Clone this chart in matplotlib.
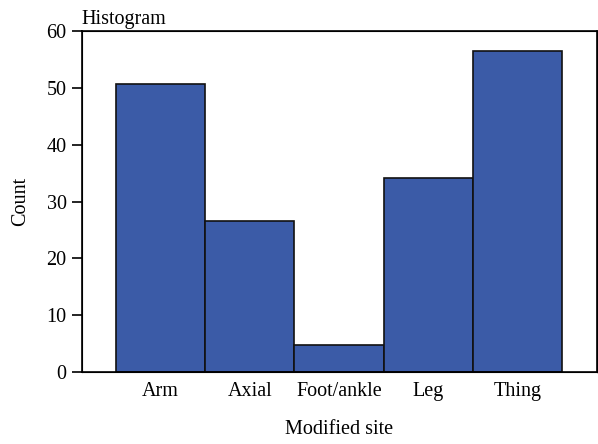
import matplotlib.pyplot as plt
import numpy as np

plt.rcParams["font.family"] = ["Liberation Serif", "DejaVu Serif"]

sites = ["Arm", "Axial", "Foot/ankle", "Leg", "Thing"]
counts = [50.7, 26.6, 4.8, 34.1, 56.5]

fig = plt.figure(figsize=(5.98, 4.44), dpi=100)
ax = fig.add_axes([0.137, 0.162, 0.861, 0.768])

x = np.arange(len(sites))
ax.bar(x, counts, width=1.0, color="#3b5ba7", edgecolor="#111111", linewidth=1.2)

ax.set_xlim(-0.88, 4.89)
ax.set_ylim(0, 60)
ax.set_xticks(x)
ax.set_xticklabels(sites, fontsize=14.5)
ax.set_yticks(np.arange(0, 61, 10))
ax.tick_params(axis="y", labelsize=14.5, length=7, width=1.2, direction="out", pad=4)
ax.tick_params(axis="x", length=0, pad=7)

for s in ax.spines.values():
    s.set_linewidth(1.2)

ax2 = ax.twinx()
ax2.set_ylim(0, 60)
ax2.set_yticks(np.arange(0, 61, 5))
ax2.set_yticklabels([])
ax2.tick_params(axis="y", length=5, width=1.0, direction="out")

ax.set_xlabel("Modified site", fontsize=14.5, labelpad=14)
ax.set_ylabel("Count", fontsize=14.5, labelpad=12)
ax.set_title("Histogram", fontsize=14.5, loc="left", x=-0.0, pad=5)

fig.savefig("out.png", dpi=100)
